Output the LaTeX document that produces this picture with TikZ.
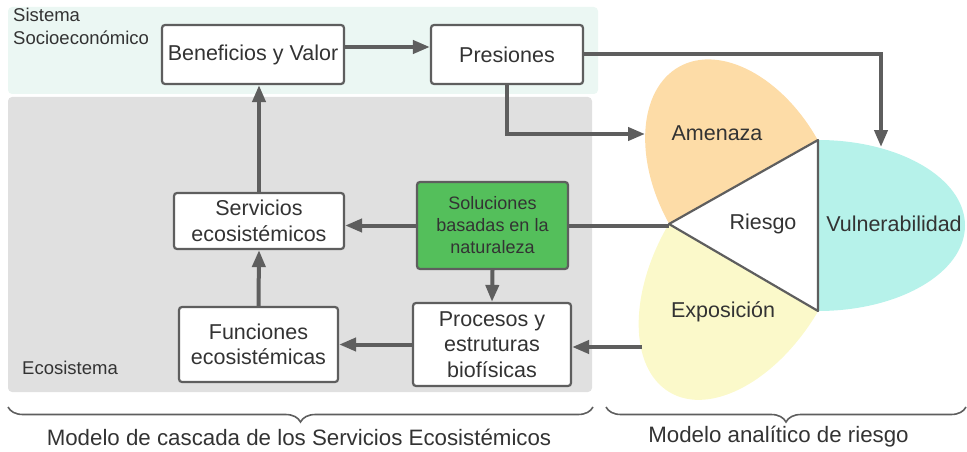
\documentclass[tikz,border=0pt]{standalone}
\usepackage{fontspec}
\setmainfont{Liberation Sans}
\usetikzlibrary{arrows.meta}
\usetikzlibrary{calc}
\usetikzlibrary{math}
\usetikzlibrary{decorations.pathreplacing}

\definecolor{linegray}{HTML}{5E5E5E}
\definecolor{textgray}{HTML}{333333}
\definecolor{socio}{HTML}{EBF7F3}
\definecolor{eco}{HTML}{E0E0E0}
\definecolor{nbs}{HTML}{54BF5B}
\definecolor{amenaza}{HTML}{FDDCA7}
\definecolor{exposicion}{HTML}{FBF9CA}
\definecolor{vulner}{HTML}{B6F2EA}

\begin{document}
\begin{tikzpicture}[x=1pt,y=-1pt,
  box/.style={draw=linegray, line width=2.2pt, rounded corners=3pt, fill=white,
    align=center, inner sep=0pt, text=textgray, font=\fontsize{21.5}{25.5}\selectfont},
  link/.style={draw=linegray, line width=4pt, -{Triangle[length=17pt,width=13pt]}},
  plain/.style={draw=linegray, line width=4pt},
  lbl/.style={text=textgray, inner sep=0pt, font=\fontsize{21.5}{25.5}\selectfont},
  caption/.style={text=textgray, inner sep=0pt, font=\fontsize{22.3}{26}\selectfont},
  small/.style={text=textgray, inner sep=0pt, align=left, font=\fontsize{18.5}{23}\selectfont},
  bracket/.style={draw=linegray, line width=1.6pt, decorate,
    decoration={brace, mirror, amplitude=15pt}}]

  \tikzmath{
    \halfedge = 85.5;  % half of the right edge of the triangle
    \vreach   = 147;   % reach of the vulnerability petal
    \areach   = 132;   % reach of the hazard petal
    \ereach   = 145;   % reach of the exposure petal
  }

  \useasboundingbox (0,0) rectangle (967,452);

  % Background areas
  \fill[socio, rounded corners=4pt] (8,7) rectangle (598,94);
  \fill[eco, rounded corners=4pt] (8,97) rectangle (592,392);
  \node[small, anchor=north west] (socio) at (13,8) {Sistema\\Socioeconómico};
  \node[small, anchor=west] (ecosis) at (22,368) {Ecosistema};

  % Corners of the risk triangle
  \coordinate (L) at (669,224);
  \coordinate (T) at (818,140);
  \coordinate (B) at (818,311);

  % Petals
  \begin{scope}[shift={($(L)!0.5!(T)$)}, rotate=29.1]
    \fill[amenaza] (-85.3,0) arc[start angle=180, end angle=360, x radius=85.3, y radius=\areach] -- cycle;
  \end{scope}
  \begin{scope}[shift={($(L)!0.5!(B)$)}, rotate=-30.6]
    \fill[exposicion] (-86.5,0) arc[start angle=180, end angle=0, x radius=86.5, y radius=\ereach] -- cycle;
  \end{scope}
  \fill[vulner] (T) arc[start angle=-90, end angle=90, x radius=\vreach, y radius=\halfedge] -- cycle;

  % Triangle
  \draw[draw=linegray, fill=white, line width=2.2pt, line join=round] (L) -- (T) -- (B) -- cycle;

  \node[lbl] (riesgo) at (763,224) {Riesgo};
  \node[lbl] (amz) at (717,133) {Amenaza};
  \node[lbl] (expo) at (723,312) {Exposición};
  \node[lbl] (vuln) at (894,224) {Vulnerabilidad};

  % Cascade boxes
  \node[box, minimum width=182, minimum height=59] (ben) at (253,54.5) {Beneficios y Valor};
  \node[box, minimum width=152, minimum height=59] (pres) at (507,54.5) {Presiones};
  \node[box, minimum width=170, minimum height=56] (serv) at (259,221) {Servicios\\ecosistémicos};
  \node[box, minimum width=151, minimum height=87, fill=nbs,
    font=\fontsize{18}{22}\selectfont] (sbn) at (492.5,225.5) {Soluciones\\basadas en la\\naturaleza};
  \node[box, minimum width=158, minimum height=83] (proc) at (492,344.5) {Procesos y\\estruturas\\biofísicas};
  \node[box, minimum width=159, minimum height=75] (func) at (258.5,344.5) {Funciones\\ecosistémicas};

  % Free ends on the petals
  \coordinate (vtop) at (881,147);
  \coordinate (aleft) at (645,134);
  \coordinate (eleft) at (642,347);

  % Connectors
  \draw[link] ([yshift=7.5pt]ben.east) -- ([yshift=7.5pt]pres.west);
  \draw[link] (pres.east) -| (vtop);
  \draw[link] (pres.south) |- (aleft);
  \draw[link] (sbn.west) -- (sbn.west -| serv.east);
  \draw[plain] (sbn.east) -- (sbn.east -| L);
  \draw[link] (sbn.south) -- (proc.north);
  \draw[link] (proc.west) -- (proc.west -| func.east);
  \draw[link] (eleft) -- (eleft -| proc.east);
  \draw[link] (func.north) -- (serv.south);
  \draw[link] (serv.north) -- (serv.north |- ben.south);

  % Brackets and captions
  \coordinate (b1) at (8,407);
  \coordinate (b2) at (593,407);
  \coordinate (b3) at (606,407);
  \coordinate (b4) at (966,407);
  \draw[bracket] (b1) -- (b2);
  \draw[bracket] (b3) -- (b4);
  \node[caption] (cascada) at (299,437) {Modelo de cascada de los Servicios Ecosistémicos};
  \node[caption] (analitico) at (778.5,437) {Modelo analítico de riesgo};

\end{tikzpicture}
\end{document}
